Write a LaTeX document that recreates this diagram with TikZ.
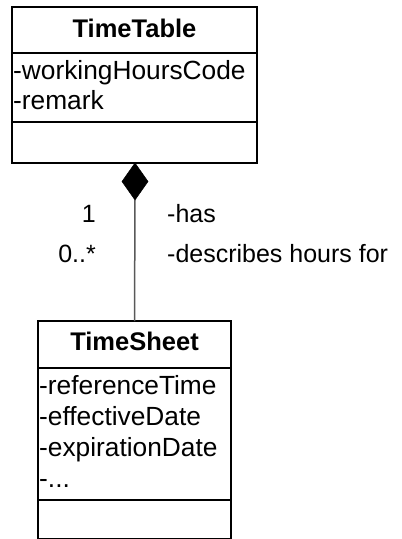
\documentclass[tikz,border=0pt]{standalone}
\usepackage{fontspec}
\setmainfont{Liberation Sans}
\usetikzlibrary{shapes.geometric}
\begin{document}
\begin{tikzpicture}[x=1pt,y=-1pt,
  box/.style={draw=black,line width=2pt,inner sep=0pt,outer sep=0pt,anchor=north west},
  txt/.style={inner sep=0pt,anchor=base west,font=\fontsize{26.3}{30}\selectfont},
  lbl/.style={inner sep=0pt,font=\fontsize{25}{30}\selectfont},
  ttl/.style={inner sep=0pt,anchor=base,font=\fontsize{25.5}{30}\selectfont\bfseries},
  sep/.style={line width=2pt},
  comp/.style={draw=black,fill=black,diamond,inner sep=0pt,outer sep=0pt,line width=0.5pt,minimum width=26pt,minimum height=37pt},
  assoc/.style={draw=black!65,line width=1.5pt}]
\useasboundingbox (0,0) rectangle (402,539);
% TimeTable
\node[box,minimum width=245pt,minimum height=156pt] (tt) at (12,7) {};
\draw[sep] (12,53) -- (257,53);
\draw[sep] (12,122) -- (257,122);
\node[ttl] (ttn) at (134.5,37) {TimeTable};
\node[txt] (tta1) at (13,79) {-workingHoursCode};
\node[txt] (tta2) at (13,109) {-remark};
% TimeSheet
\node[box,minimum width=193pt,minimum height=218pt] (ts) at (38,321) {};
\draw[sep] (38,368) -- (231,368);
\draw[sep] (38,500) -- (231,500);
\node[ttl] (tsn) at (134.5,350) {TimeSheet};
\node[txt] (tsa1) at (39,394) {-referenceTime};
\node[txt] (tsa2) at (39,425) {-effectiveDate};
\node[txt] (tsa3) at (39,456) {-expirationDate};
\node[txt] (tsa4) at (39,487) {-...};
% composition
\node[comp] (d) at (135,181.5) {};
\draw[assoc] (d.south) -- (ts.north);
\node[lbl,anchor=base east] (m1) at (96,222) {1};
\node[lbl,anchor=base east] (m2) at (96,262) {0..*};
\node[lbl,anchor=base west] (r1) at (167,222) {-has};
\node[lbl,anchor=base west] (r2) at (167,262) {-describes hours for};
\end{tikzpicture}
\end{document}
